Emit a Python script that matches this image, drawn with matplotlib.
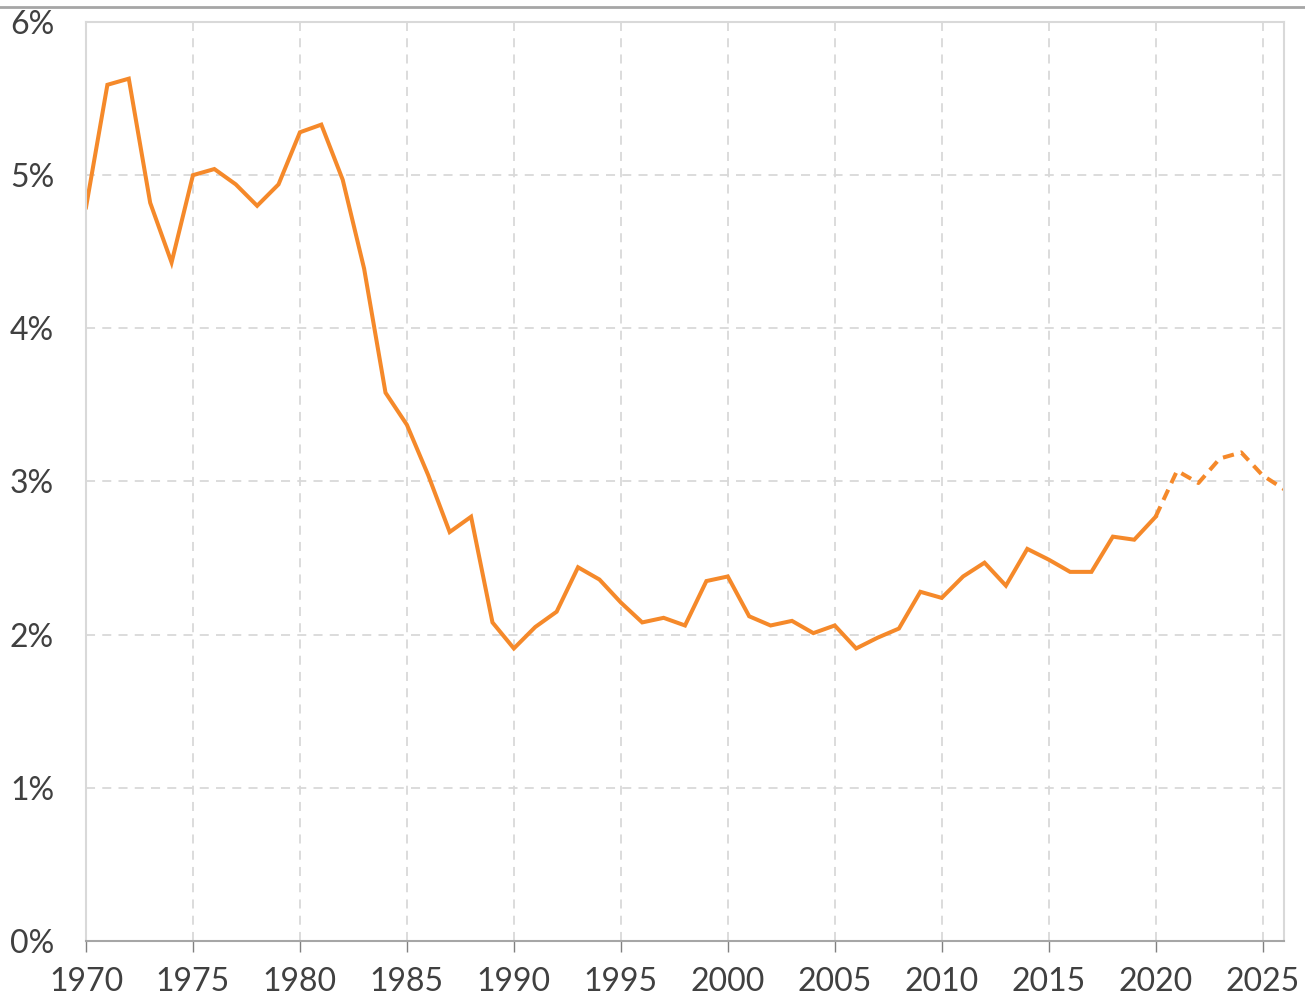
import matplotlib
matplotlib.use('Agg')
import matplotlib.pyplot as plt
from matplotlib.ticker import FuncFormatter, MultipleLocator

years = list(range(1970, 2027))
rate = [4.79, 5.59, 5.63, 4.82, 4.43, 5.00, 5.04, 4.94, 4.80, 4.94,
        5.28, 5.33, 4.97, 4.39, 3.58, 3.37, 3.04, 2.67, 2.77, 2.08,
        1.91, 2.05, 2.15, 2.44, 2.36, 2.21, 2.08, 2.11, 2.06, 2.35,
        2.38, 2.12, 2.06, 2.09, 2.01, 2.06, 1.91, 1.98, 2.04, 2.28,
        2.24, 2.38, 2.47, 2.32, 2.56, 2.49, 2.41, 2.41, 2.64, 2.62,
        2.77, 3.07, 2.99, 3.15, 3.19, 3.04, 2.95]
last_actual = 2020

plt.rcParams['font.family'] = ['Lato', 'DejaVu Sans']

fig = plt.figure(figsize=(13.05, 10), dpi=100)
ax = fig.add_axes([86/1305, 1 - 941/1000, (1284-86)/1305, (941-22)/1000])

cut = years.index(last_actual)
orange = '#F5892A'
ax.plot(years[:cut+1], rate[:cut+1], color=orange, lw=2.9, solid_joinstyle='miter')
ax.plot(years[cut:], rate[cut:], color=orange, lw=2.9, linestyle=(0, (2.8, 1.8)))

ax.set_xlim(1970, 2026)
ax.set_ylim(0, 6)
ax.xaxis.set_major_locator(MultipleLocator(5))
ax.yaxis.set_major_locator(MultipleLocator(1))
ax.yaxis.set_major_formatter(FuncFormatter(lambda v, p: f'{v:.0f}%'))

ax.grid(True, color='#d9d9d9', linestyle=(0, (5, 4)), lw=1.3)
ax.set_axisbelow(True)

for s in ['left', 'top', 'right']:
    ax.spines[s].set_color('#d9d9d9')
    ax.spines[s].set_linewidth(1.5)
ax.spines['bottom'].set_color('#a6a6a6')
ax.spines['bottom'].set_linewidth(1.5)

ax.tick_params(axis='x', length=8, width=1, color='#808080', labelsize=23, labelcolor='#404040', pad=11)
ax.tick_params(axis='y', length=0, labelsize=23, labelcolor='#404040', pad=23)

fig.add_artist(plt.Line2D([0, 1], [1 - 7/1000, 1 - 7/1000], color='#a6a6a6', lw=2))

plt.savefig('out.png', dpi=100)
